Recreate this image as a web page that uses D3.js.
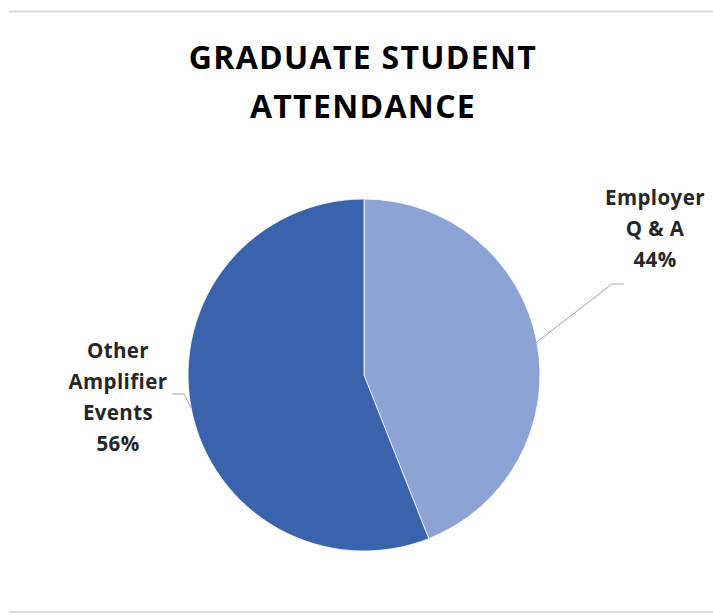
<!DOCTYPE html>
<html>
<head>
<meta charset="utf-8">
<script src="https://cdn.jsdelivr.net/npm/d3@7"></script>
<style>
  html, body { margin: 0; padding: 0; background: #fff; }
  svg { display: block; }
</style>
</head>
<body>
<svg id="chart" width="713" height="615"></svg>
<script>
const titleLines = ["GRADUATE STUDENT", "ATTENDANCE"];
const categories = ["Employer Q & A", "Other Amplifier Events"];
const values = [44, 56];
const labelLines = [["Employer", "Q & A", "44%"], ["Other", "Amplifier", "Events", "56%"]];
const colors = ["#8EA3D5", "#3A63AD"];

const W = 713, H = 615;
const cx = 364, cy = 375, r = 176;
const FONT = "'Open Sans', Lato, sans-serif";

const svg = d3.select("#chart");

// frame lines
svg.append("line").attr("x1", 9).attr("x2", W).attr("y1", 11.5).attr("y2", 11.5)
  .attr("stroke", "#DADADA").attr("stroke-width", 2);
svg.append("line").attr("x1", 9).attr("x2", W).attr("y1", 612).attr("y2", 612)
  .attr("stroke", "#DADADA").attr("stroke-width", 2);

// title
const title = svg.append("text").attr("text-anchor", "middle")
  .attr("font-family", FONT).attr("font-weight", 700).attr("font-size", 32)
  .attr("letter-spacing", 1.3)
  .attr("fill", "#000");
titleLines.forEach((t, i) => {
  title.append("tspan").attr("x", 363).attr("y", 69 + i * 49).text(t);
});

const pie = d3.pie().sort(null).value(d => d)(values);
const arc = d3.arc().innerRadius(0).outerRadius(r);

const g = svg.append("g").attr("transform", `translate(${cx},${cy})`);
g.selectAll("path").data(pie).enter().append("path")
  .attr("d", arc)
  .attr("fill", (d, i) => colors[i])
  .attr("stroke", "#fff").attr("stroke-width", 0.8);

// label layout (relative to pie centre)
const labelLayout = [
  { x: 291, y0: -170, elbow: [248, -91], end: [260, -91] },
  { x: -246, y0: -17, elbow: [-180, 19], end: [-192, 19] }
];

pie.forEach((d, i) => {
  const a = (d.startAngle + d.endAngle) / 2;
  const px = Math.sin(a) * r, py = -Math.cos(a) * r;
  const L = labelLayout[i];
  g.append("polyline")
    .attr("points", [[px, py], L.elbow, L.end].map(p => p.join(",")).join(" "))
    .attr("fill", "none").attr("stroke", "#A6A6A6").attr("stroke-width", 1);
  const t = g.append("text").attr("text-anchor", "middle")
    .attr("font-family", FONT).attr("font-weight", 700).attr("font-size", 20.5)
    .attr("letter-spacing", 0.4)
    .attr("fill", "#262626");
  labelLines[i].forEach((s, k) => {
    t.append("tspan").attr("x", L.x).attr("y", L.y0 + k * 31).text(s);
  });
});
</script>
</body>
</html>
